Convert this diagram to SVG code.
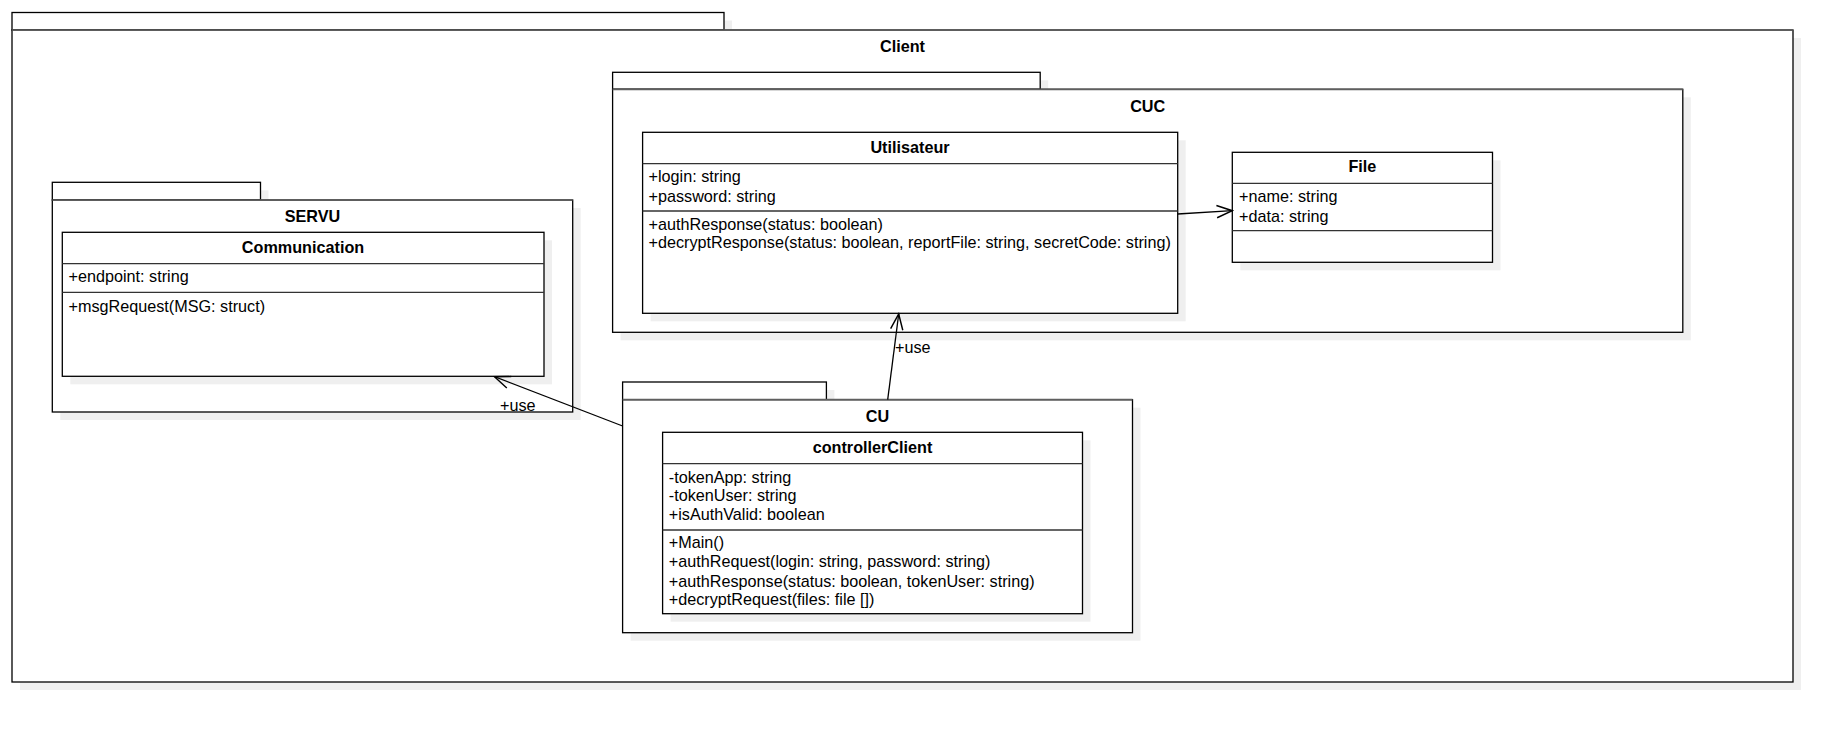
<svg xmlns="http://www.w3.org/2000/svg" width="1842" height="732" viewBox="0 0 1842 732">
<defs>
<style>
.bg{fill:#ffffff}
.sh{fill:#efefef;stroke:none}
.box{fill:#ffffff;stroke:#000000;stroke-width:1.3}
.tab{fill:#ffffff;stroke:#000000;stroke-width:1.3}
.ptop{stroke:#5f5f5f;stroke-width:1.7;fill:none}
.sep{stroke:#333333;stroke-width:1.3;fill:none}
.t{font-family:"Liberation Sans",Arial,sans-serif;font-size:16.2px;fill:#000000}
.b{font-weight:bold;text-anchor:middle}
.edge{stroke:#000000;stroke-width:1.3;fill:none}
</style>
<marker id="open" markerUnits="userSpaceOnUse" markerWidth="20" markerHeight="20" viewBox="-16 -8 18 16" refX="0" refY="0" orient="auto">
<path d="M-14,-5.5 L0,0 L-14,5.5" fill="none" stroke="#000000" stroke-width="1.3"/>
</marker>
</defs>
<rect class="bg" x="0" y="0" width="1842" height="732"/>

<g id="pkg-client">
<rect class="sh" x="20" y="20.5" width="712" height="17.5"/>
<rect class="sh" x="20" y="38" width="1781" height="652"/>
<rect class="tab" x="12" y="12.5" width="712" height="17.5"/>
<rect class="box" x="12" y="30" width="1781" height="652"/>
<line class="ptop" x1="12" y1="30" x2="1793" y2="30"/>
<text class="t b" x="902.5" y="52.2">Client</text>
</g>

<g id="pkg-cuc">
<rect class="sh" x="620.6" y="80.3" width="427.6" height="17"/>
<rect class="sh" x="620.6" y="97.3" width="1070.2" height="243"/>
<rect class="tab" x="612.6" y="72.3" width="427.6" height="17"/>
<rect class="box" x="612.6" y="89.3" width="1070.2" height="243"/>
<line class="ptop" x1="612.6" y1="89.3" x2="1682.8" y2="89.3"/>
<text class="t b" x="1147.7" y="111.5">CUC</text>
</g>

<g id="class-utilisateur">
<rect class="sh" x="650.6" y="140.3" width="535.1" height="181"/>
<rect class="box" x="642.6" y="132.3" width="535.1" height="181"/>
<line class="sep" x1="642.6" y1="163.7" x2="1177.7" y2="163.7"/>
<line class="sep" x1="642.6" y1="211" x2="1177.7" y2="211"/>
<text class="t b" x="910" y="153.3">Utilisateur</text>
<text class="t" x="648.5" y="182.2">+login: string</text>
<text class="t" x="648.5" y="201.5">+password: string</text>
<text class="t" x="648.5" y="229.5">+authResponse(status: boolean)</text>
<text class="t" x="648.5" y="248.2">+decryptResponse(status: boolean, reportFile: string, secretCode: string)</text>
</g>

<g id="class-file">
<rect class="sh" x="1240.3" y="160.3" width="260.2" height="110"/>
<rect class="box" x="1232.3" y="152.3" width="260.2" height="110"/>
<line class="sep" x1="1232.3" y1="183.3" x2="1492.5" y2="183.3"/>
<line class="sep" x1="1232.3" y1="230.7" x2="1492.5" y2="230.7"/>
<text class="t b" x="1362.4" y="172.2">File</text>
<text class="t" x="1239" y="202.2">+name: string</text>
<text class="t" x="1239" y="221.5">+data: string</text>
</g>

<g id="pkg-servu">
<rect class="sh" x="60.3" y="190.3" width="208.2" height="17.7"/>
<rect class="sh" x="60.3" y="208" width="520.4" height="212"/>
<rect class="tab" x="52.3" y="182.3" width="208.2" height="17.7"/>
<rect class="box" x="52.3" y="200" width="520.4" height="212"/>
<line class="ptop" x1="52.3" y1="200" x2="572.7" y2="200"/>
<text class="t b" x="312.5" y="222.2">SERVU</text>
</g>

<g id="class-communication">
<rect class="sh" x="70.3" y="240.3" width="481.7" height="144"/>
<rect class="box" x="62.3" y="232.3" width="481.7" height="144"/>
<line class="sep" x1="62.3" y1="263.7" x2="544" y2="263.7"/>
<line class="sep" x1="62.3" y1="292.3" x2="544" y2="292.3"/>
<text class="t b" x="303" y="252.8">Communication</text>
<text class="t" x="68.5" y="282.2">+endpoint: string</text>
<text class="t" x="68.5" y="311.5">+msgRequest(MSG: struct)</text>
</g>

<g id="pkg-cu">
<rect class="sh" x="630.6" y="390" width="203.8" height="17.7"/>
<rect class="sh" x="630.6" y="407.7" width="509.9" height="233"/>
<rect class="tab" x="622.6" y="382" width="203.8" height="17.7"/>
<rect class="box" x="622.6" y="399.7" width="509.9" height="233"/>
<line class="ptop" x1="622.6" y1="399.7" x2="1132.5" y2="399.7"/>
<text class="t b" x="877.5" y="421.8">CU</text>
</g>

<g id="class-controllerclient">
<rect class="sh" x="670.6" y="440.3" width="419.9" height="181.4"/>
<rect class="box" x="662.6" y="432.3" width="419.9" height="181.4"/>
<line class="sep" x1="662.6" y1="463.7" x2="1082.5" y2="463.7"/>
<line class="sep" x1="662.6" y1="530" x2="1082.5" y2="530"/>
<text class="t b" x="872.5" y="453.2">controllerClient</text>
<text class="t" x="668.8" y="482.5">-tokenApp: string</text>
<text class="t" x="668.8" y="501.4">-tokenUser: string</text>
<text class="t" x="668.8" y="520">+isAuthValid: boolean</text>
<text class="t" x="668.8" y="548.2">+Main()</text>
<text class="t" x="668.8" y="567.4">+authRequest(login: string, password: string)</text>
<text class="t" x="668.8" y="586.5">+authResponse(status: boolean, tokenUser: string)</text>
<text class="t" x="668.8" y="605">+decryptRequest(files: file [])</text>
</g>

<g id="connectors">
<path class="edge" d="M1177.7,214 L1232.3,210.7" marker-end="url(#open)"/>
<path class="edge" d="M887.7,399.7 L898.7,314" marker-end="url(#open)"/>
<text class="t" x="895" y="353.2">+use</text>
<path class="edge" d="M622.6,426 L494.5,376.7" marker-end="url(#open)"/>
<text class="t" x="500" y="411.2">+use</text>
</g>
</svg>
